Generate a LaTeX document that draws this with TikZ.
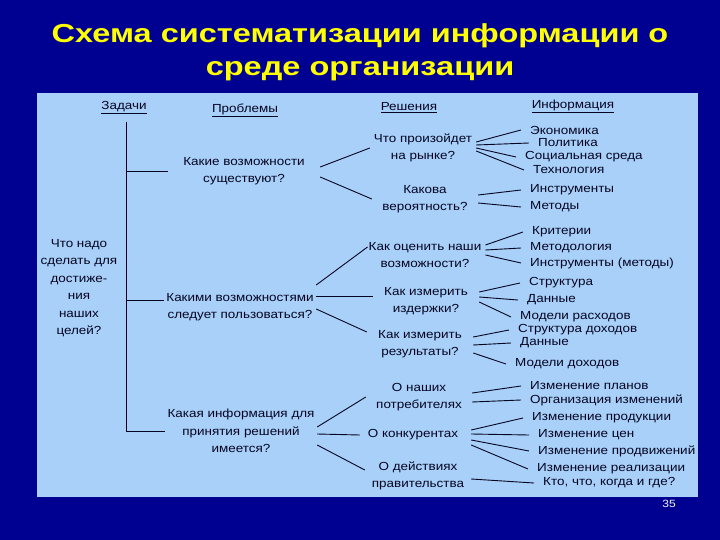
\documentclass[tikz,border=0pt]{standalone}
\usepackage{fontspec}
\setmainfont{Liberation Sans}[FakeStretch=1.15]
\newfontfamily\titlefont{Liberation Sans}[FakeStretch=1.25]
\usetikzlibrary{positioning}

\definecolor{slidebg}{RGB}{0,0,145}
\definecolor{panelbg}{RGB}{168,208,248}
\definecolor{ink}{RGB}{5,5,35}
\definecolor{titleyellow}{RGB}{255,255,0}

\begin{document}
\begin{tikzpicture}[x=1pt,y=-1pt,
    every node/.style={font=\fontsize{11.7}{17.5}\selectfont,text=ink},
    head/.style={inner sep=1pt},
    txt/.style={align=center,inner sep=2pt},
    prob/.style={align=center,minimum width=152pt,inner sep=1pt},
    sol/.style={align=center,minimum width=106pt,inner sep=1pt},
    infoitem/.style={anchor=west,inner xsep=9pt,inner ysep=1pt,xshift=-9pt},
    link/.style={draw=ink,line width=0.9pt}
]
% slide
\fill[slidebg] (0,0) rectangle (720,540);
\fill[panelbg] (37,93) rectangle (698,497);
\useasboundingbox (0,0) rectangle (720,540);

\node[font=\titlefont\bfseries\fontsize{26}{33}\selectfont,text=titleyellow,align=center]
  (title) at (360,52) {Схема систематизации информации о\\среде организации};
\node[font=\fontsize{10.5}{12}\selectfont,text=white!85!panelbg] (pagenum) at (669,504) {35};

% column heads
\node[head] (tasks) at (124,108) {\underline{Задачи}};
\node[head] (probs) at (245,110) {\underline{Проблемы}};
\node[head] (sols) at (409,108) {\underline{Решения}};
\node[head] (infos) at (573,106) {\underline{Информация}};

% tasks and problems
\node[txt] (goal) at (79,288) {Что надо\\сделать для\\достиже-\\ния\\наших\\целей?};
\node[prob] (p1) at (244,171) {Какие возможности\\существуют?};
\node[prob] (p2) at (240,307) {Какими возможностями\\следует пользоваться?};
\node[prob] (p3) at (241,431) {Какая информация для\\принятия решений\\имеется?};

% solutions
\node[sol] (s1) at (423,148) {Что произойдет\\на рынке?};
\node[sol] (s2) at (425,199) {Какова\\вероятность?};
\node[sol] (s3) at (425,255) {Как оценить наши\\возможности?};
\node[sol] (s4) at (426,301) {Как измерить\\издержки?};
\node[sol] (s5) at (420,344) {Как измерить\\результаты?};
\node[sol] (s6) at (419,397) {О наших\\потребителях};
\node[sol] (s7) at (413,435) {О конкурентах};
\node[sol] (s8) at (418,476) {О действиях\\правительства};

% information
\node[infoitem] (econ) at (530,130) {Экономика};
\node[infoitem] (pol) at (538,143) {Политика};
\node[infoitem] (soc) at (525,157) {Социальная среда};
\node[infoitem] (tech) at (533,170) {Технология};
\node[infoitem] (instr) at (530,190) {Инструменты};
\node[infoitem] (meth) at (530,207) {Методы};
\node[infoitem] (crit) at (532,232) {Критерии};
\node[infoitem] (methlgy) at (530,248) {Методология};
\node[infoitem] (tools) at (530,263) {Инструменты (методы)};
\node[infoitem] (struct) at (529,283) {Структура};
\node[infoitem] (dataA) at (527,300) {Данные};
\node[infoitem] (costmod) at (520,317) {Модели расходов};
\node[infoitem] (incstruct) at (518,330) {Структура доходов};
\node[infoitem] (dataB) at (520,343) {Данные};
\node[infoitem] (incmod) at (515,364) {Модели доходов};
\node[infoitem] (plans) at (530,386) {Изменение планов};
\node[infoitem] (orgch) at (530,400) {Организация изменений};
\node[infoitem] (prod) at (532,418) {Изменение продукции};
\node[infoitem] (price) at (538,435) {Изменение цен};
\node[infoitem] (promo) at (538,451) {Изменение продвижений};
\node[infoitem] (sales) at (537,469) {Изменение реализации};
\node[infoitem] (who) at (543,483) {Кто, что, когда и где?};

% tree of tasks
\coordinate (trunk) at (126,122);
\draw[link] (trunk) |- (p3.west);
\draw[link] (trunk |- p1.west) -- (p1.west);
\draw[link] (trunk |- 0,300) -- ([yshift=7pt]p2.west);

% problems to solutions
\draw[link] ([yshift=4pt]p1.east) -- (s1.west);
\draw[link] ([yshift=-6pt]p1.east) -- (s2.west);
\draw[link] ([yshift=22pt]p2.east) -- ([yshift=8pt]s3.west);
\draw[link] ([yshift=11pt]p2.east) -- ([yshift=5pt]s4.west);
\draw[link] ([yshift=-2pt]p2.east) -- ([yshift=12pt]s5.west);
\draw[link] ([yshift=4pt]p3.east) -- (s6.west);
\draw[link] ([yshift=-3pt]p3.east) -- (s7.west);
\draw[link] ([yshift=-14pt]p3.east) -- ([yshift=6pt]s8.west);

% solutions to information
\draw[link] ([yshift=6pt]s1.east) -- (econ.west);
\draw[link] ([yshift=3pt]s1.east) -- (pol.west);
\draw[link] (s1.east) -- (soc.west);
\draw[link] ([yshift=-3pt]s1.east) -- (tech.west);
\draw[link] ([yshift=4pt]s2.east) -- (instr.west);
\draw[link] ([yshift=-4pt]s2.east) -- (meth.west);
\draw[link] ([xshift=3pt,yshift=10pt]s3.east) -- (crit.west);
\draw[link] ([xshift=3pt,yshift=5pt]s3.east) -- (methlgy.west);
\draw[link] ([xshift=3pt]s3.east) -- (tools.west);
\draw[link] ([yshift=9pt]s4.east) -- (struct.west);
\draw[link] ([yshift=4pt]s4.east) -- (dataA.west);
\draw[link] ([yshift=-1pt]s4.east) -- (costmod.west);
\draw[link] ([yshift=7pt]s5.east) -- (incstruct.west);
\draw[link] ([yshift=-1pt]s5.east) -- (dataB.west);
\draw[link] ([yshift=-9pt]s5.east) -- (incmod.west);
\draw[link] ([yshift=4pt]s6.east) -- (plans.west);
\draw[link] ([yshift=-5pt]s6.east) -- (orgch.west);
\draw[link] ([xshift=5pt,yshift=5pt]s7.east) -- (prod.west);
\draw[link] ([xshift=5pt,yshift=1pt]s7.east) -- (price.west);
\draw[link] ([xshift=5pt,yshift=-5pt]s7.east) -- (promo.west);
\draw[link] ([xshift=5pt,yshift=-10pt]s7.east) -- (sales.west);
\draw[link] ([yshift=-3pt]s8.east) -- (who.west);
\end{tikzpicture}
\end{document}
